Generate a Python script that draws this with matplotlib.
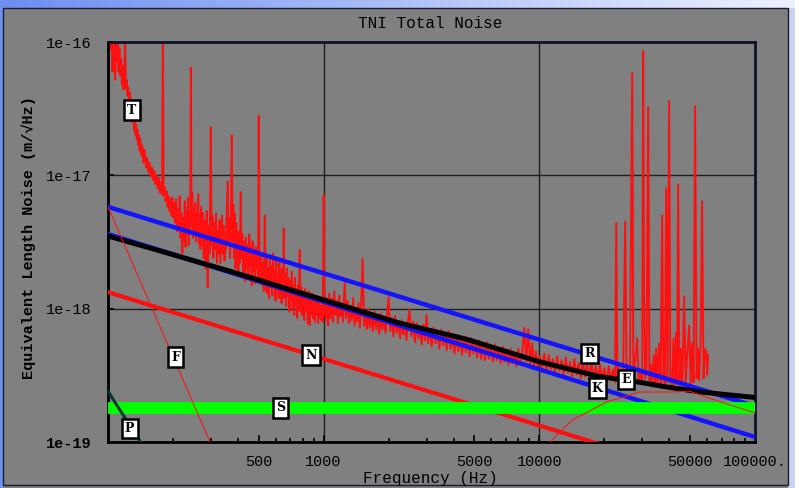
import numpy as np
import matplotlib.pyplot as plt
from matplotlib.ticker import FixedLocator, NullFormatter
from matplotlib.patches import Rectangle
from matplotlib.colors import LinearSegmentedColormap

# all amplitudes below are in units of 1e-18 m/rtHz
SCALE = 1e-18

# measured spectrum, (frequency Hz, amplitude)
measured = [
    (100, 120), (101, 95), (102, 130), (103, 88), (104, 110), (105, 60), (106, 125), (107, 70),
    (108, 52), (109, 98), (110, 72), (111, 105), (112, 60), (113, 90), (114, 56), (115, 75),
    (116, 48), (117, 66), (118, 44), (119, 58), (120, 110), (121, 45), (122, 52), (123, 40),
    (124, 46), (125, 35), (126, 42), (127, 32), (128, 38), (129, 28),
    (130, 25), (131, 30), (132, 22), (133, 27), (134, 20), (135, 24), (136, 18.5), (137, 22),
    (138, 17), (139, 20), (140, 15.5), (141, 19), (142, 14.5), (143, 17), (144, 13.8), (145, 16),
    (146, 12.5), (148, 15.5), (150, 11.5), (152, 13.5), (154, 10.5), (156, 12.5), (158, 9.8),
    (160, 11.5), (162, 9.2), (164, 10.8), (166, 8.6), (168, 10), (170, 8), (172, 9.5), (174, 7.4),
    (176, 8.8), (178, 7.2), (179.7, 110), (181, 7.0), (183, 8.2), (185, 6.4), (187, 7.6),
    (189, 5.8), (191, 7.0), (193, 5.4), (195, 6.6), (197, 5.0), (199, 6.8), (201, 4.8), (203, 6.2),
    (205, 4.4), (207, 6.6), (209, 3.8), (211, 5.6), (213, 4.2), (215, 7.0), (217, 3.4), (219, 5.2),
    (221, 2.6), (223, 4.8), (225, 3.2), (227, 6.4), (229, 2.9), (231, 5.4), (233, 3.6), (235, 6.8),
    (237, 3.0), (239, 5.0), (240.5, 3.8), (242.3, 64), (244, 4.2), (246, 7.4), (248, 3.4),
    (250, 5.6), (252, 3.8), (254, 6.2), (256, 3.2), (258, 5.2), (260, 3.6), (262, 7.2), (264, 3.1),
    (266, 5.0), (268, 2.8), (270, 5.8),
    (272, 3.0), (275, 5.2), (278, 2.4), (281, 4.6), (284, 2.0), (287, 5.4), (290, 1.45), (293, 4.2),
    (296, 2.6), (299.8, 23), (302, 3.0), (305, 5.0), (308, 2.4), (311, 4.4), (314, 2.8), (317, 5.2),
    (320, 2.2), (323, 3.8), (326, 2.6), (329, 4.6), (332, 2.2), (335, 3.4), (338, 5.0), (341, 2.6),
    (344, 4.2), (347, 2.3), (350, 3.6), (353, 2.8), (356, 6.0), (359.4, 9.0), (362, 3.0), (365, 4.8),
    (368, 2.4),
    (371, 4.4), (375.1, 20), (378, 3.2), (381, 6.0), (384, 2.4), (387, 5.2), (390, 2.0), (393, 4.4),
    (396, 2.6), (399, 3.8), (402, 1.8), (405, 3.6), (408, 2.2), (412.8, 7.5), (416, 2.4), (420, 3.6),
    (424, 1.9), (428, 3.2), (432, 1.6), (436, 3.4), (440, 2.0), (444, 3.0), (448, 1.7), (452, 3.6),
    (456, 2.1), (460, 2.9), (464, 1.5), (468, 3.2), (472, 1.9), (476, 2.7), (480, 1.55), (484, 2.9),
    (488, 2.0), (492, 2.6), (496, 1.6), (500.1, 28), (504, 2.3), (508, 1.7),
    (513, 2.6), (518, 1.5), (523, 2.2), (528, 1.35), (533.3, 5.0), (538, 1.4), (543, 2.4), (548, 1.3),
    (553, 2.0), (558, 1.2), (563, 2.5), (568, 1.45), (573, 2.1), (578, 1.25), (583, 2.6), (588, 1.5),
    (593, 1.9), (598, 1.15), (603, 2.3), (608, 1.4), (613, 1.8), (618, 1.2), (623, 2.2), (628, 1.3),
    (633, 1.9), (638, 1.1), (643, 2.0), (648, 1.35), (652.9, 4.0), (658, 1.2), (664, 1.8),
    (670, 1.05), (676, 2.0), (682, 1.25), (688, 1.7), (694, 0.95), (700, 1.6), (706, 1.15),
    (712, 1.9), (718, 1.0), (724, 1.5), (730, 0.9), (736, 1.7), (742, 1.05), (748, 1.4), (754, 0.85),
    (760, 1.5), (766, 1.0), (774.3, 2.75), (780, 0.95), (788, 1.45), (796, 0.9), (804, 1.3),
    (812, 0.82), (820, 1.4), (828, 0.95), (836, 1.25), (844, 0.78), (852, 1.35), (861, 0.75),
    (870, 1.2), (878, 0.9), (886, 1.3), (894, 0.85), (902, 1.15), (910, 0.8), (918, 1.25),
    (926, 0.9), (934, 1.1), (942, 0.78), (950, 1.2), (958, 0.85), (966, 1.05), (974, 0.82),
    (982, 1.15), (990, 0.8), (1000, 7.1), (1008, 0.9), (1016, 1.1), (1024, 0.85), (1032, 1.2),
    (1040, 0.8), (1050, 0.75),
    (1060, 1.3), (1075, 0.85), (1090, 1.2), (1105, 0.8), (1120, 1.35), (1135, 0.9), (1150, 1.15),
    (1165, 0.78), (1180, 1.25), (1195, 0.88), (1210, 1.1), (1230, 0.8), (1251, 1.56), (1270, 0.85),
    (1290, 1.15), (1310, 0.78), (1330, 1.05), (1350, 0.82), (1370, 1.2), (1390, 0.75), (1410, 1.0),
    (1430, 0.8), (1450, 1.1), (1470, 0.72), (1490, 1.0), (1516, 2.36), (1540, 0.75), (1560, 0.95),
    (1585, 0.7), (1610, 1.0), (1635, 0.72), (1660, 0.9), (1690, 0.68), (1720, 0.95), (1750, 0.7),
    (1780, 0.88), (1810, 0.65), (1840, 0.92), (1870, 0.7), (1900, 0.85), (1935, 0.66), (1970, 0.9),
    (2000, 1.22), (2035, 0.68), (2070, 0.85), (2105, 0.62), (2140, 0.88), (2180, 0.66), (2220, 0.8),
    (2260, 0.6), (2300, 0.82), (2340, 0.64), (2380, 0.78), (2420, 0.58), (2460, 0.8), (2501, 0.98),
    (2550, 0.62), (2600, 0.8), (2650, 0.56), (2700, 0.78), (2750, 0.6), (2800, 0.72), (2850, 0.54),
    (2900, 0.76), (2950, 0.58), (2999, 0.9), (3050, 0.55), (3110, 0.7), (3170, 0.52), (3230, 0.72),
    (3300, 0.55), (3370, 0.68), (3440, 0.5), (3510, 0.7), (3580, 0.53), (3650, 0.66), (3720, 0.49),
    (3800, 0.68), (3880, 0.5), (3960, 0.62), (4040, 0.46), (4120, 0.64), (4200, 0.48), (4290, 0.6),
    (4380, 0.45), (4470, 0.62), (4560, 0.47), (4650, 0.58), (4750, 0.44), (4850, 0.6), (4950, 0.46),
    (5050, 0.56), (5150, 0.43), (5260, 0.58), (5370, 0.42), (5480, 0.55), (5600, 0.41), (5720, 0.56),
    (5840, 0.42), (5960, 0.52), (6090, 0.4), (6220, 0.54), (6350, 0.41), (6480, 0.5), (6620, 0.39),
    (6760, 0.52), (6900, 0.4), (7050, 0.48), (7200, 0.38), (7350, 0.5), (7500, 0.39), (7660, 0.47),
    (7820, 0.37), (7990, 0.5), (8160, 0.38), (8330, 0.46), (8522, 0.72), (8700, 0.4), (8880, 0.7),
    (9070, 0.38), (9260, 0.55), (9450, 0.37), (9650, 0.48), (9850, 0.36),
    (10050, 0.44), (10300, 0.36), (10550, 0.46), (10800, 0.34), (11050, 0.45), (11300, 0.35),
    (11560, 0.42), (11830, 0.33), (12100, 0.44), (12380, 0.34), (12670, 0.41), (12960, 0.32),
    (13260, 0.43), (13570, 0.33), (13880, 0.4), (14200, 0.31), (14530, 0.42), (14870, 0.32),
    (15210, 0.39), (15560, 0.3), (15920, 0.41), (16290, 0.31), (16670, 0.38), (17060, 0.3),
    (17450, 0.4), (17860, 0.29), (18270, 0.37), (18690, 0.3), (19130, 0.38), (19570, 0.29),
    (20020, 0.36), (20480, 0.28), (20960, 0.37), (21440, 0.29), (21940, 0.35), (22450, 0.28),
    (22729, 4.4), (23000, 0.3), (23400, 0.36), (23970, 0.29), (24500, 0.38), (25013, 4.5),
    (25400, 0.3), (25800, 0.35), (26300, 0.28), (26954, 58.5), (27300, 0.3), (27800, 0.4),
    (28430, 0.6), (28900, 0.28), (29500, 0.34), (30000, 0.27), (30304, 85.6), (30600, 1.3),
    (30954, 0.3), (31400, 0.36), (31961, 32.5), (32400, 0.29), (32900, 0.38), (33352, 0.26),
    (33900, 0.45), (34400, 0.27), (34814, 0.5), (35300, 0.28), (35944, 0.55), (36500, 0.26),
    (37107, 5.0), (37600, 0.3), (38200, 0.27), (38726, 8.0), (39300, 0.28), (39985, 36),
    (40500, 0.3), (41278, 0.26), (41900, 0.6), (42500, 0.27), (43087, 0.66), (43500, 0.28),
    (44010, 8.6), (44600, 0.27), (45300, 0.5), (46000, 0.26), (46929, 1.24), (47700, 0.28),
    (48500, 0.45), (49495, 0.75), (50300, 0.27), (51088, 0.55), (51900, 0.28), (52770, 33),
    (53600, 0.3), (54400, 0.5), (55052, 0.29), (56000, 0.6), (56848, 6.4), (57700, 0.3),
    (58500, 0.5), (59320, 0.48), (60000, 0.32), (60603, 0.45),
]

# model curves (frequency Hz, amplitude)
upper_freq = [100, 100000]
upper_amp = [5.8, 0.186]
lower_freq = [100, 100000]
lower_amp = [3.63, 0.109]
total_freq = [100, 194, 367, 1186, 2249, 4592, 10000, 18963, 29040, 38726, 55052, 75000, 100000]
total_amp = [3.51, 2.58, 1.91, 1.07, 0.78, 0.59, 0.40, 0.31, 0.281, 0.259, 0.238, 0.226, 0.216]
n_freq = [100, 100000]
n_amp = [1.33, 0.042]
f_freq = [100, 320]
f_amp = [5.8, 0.076]
p_freq = [100, 150]
p_amp = [0.24, 0.086]
s_level = 0.181
k_freq = [10500, 14215, 20430, 29040, 41278, 49495, 59320, 96830, 100000]
k_amp = [0.09, 0.146, 0.199, 0.237, 0.237, 0.241, 0.217, 0.168, 0.165]

label_text = ['T', 'F', 'N', 'S', 'P', 'R', 'K', 'E']
label_freq = [129, 206, 871, 632, 126, 17045, 18560, 25280]
label_amp = [30.9, 0.434, 0.449, 0.180, 0.127, 0.464, 0.254, 0.295]

grid_freq = [1000, 10000]
grid_amp = [1e-17, 1e-18]
major_ticks = [500, 1000, 5000, 10000, 50000, 100000]
major_labels = ['500', '1000', '5000', '10000', '50000', '100000.']

W, H = 795, 488
MONO = ['Liberation Mono', 'DejaVu Sans Mono']
BG = '#808080'


def px(x, y, w=0, h=0):
    # pixel box (from top-left) to figure fraction
    return [x / W, 1 - (y + h) / H, w / W, h / H]


def draw_frame(fig):
    bar = fig.add_axes(px(0, 0, W, 8))
    cmap = LinearSegmentedColormap.from_list('bar', ['#6e8ef0', '#eef2ff'])
    bar.imshow(np.linspace(0, 1, 200).reshape(1, -1), aspect='auto', cmap=cmap)
    bar.axis('off')
    fig.patches.append(Rectangle((0, 0), 3 / W, 1, transform=fig.transFigure,
                                 facecolor='#7090ee', edgecolor='none'))
    fig.patches.append(Rectangle((788 / W, 0), 7 / W, 1 - 8 / H, transform=fig.transFigure,
                                 facecolor='#c9d3ee', edgecolor='none'))
    fig.patches.append(Rectangle((3 / W, 3 / H), 785 / W, 1 - 11 / H, transform=fig.transFigure,
                                 facecolor='none', edgecolor='#1a1a30', linewidth=1))


def plot_chart():
    fig = plt.figure(figsize=(W / 100, H / 100), dpi=100, facecolor=BG)
    draw_frame(fig)
    ax = fig.add_axes(px(108, 42, 647, 400))
    ax.set_facecolor(BG)
    ax.set_xscale('log')
    ax.set_yscale('log')

    for f in grid_freq:
        ax.axvline(f, color='#1e1e1e', lw=1, zorder=1)
    for a in grid_amp:
        ax.axhline(a, color='#1e1e1e', lw=1, zorder=1)

    mf = np.array([m[0] for m in measured])
    ma = np.array([m[1] for m in measured]) * SCALE
    ax.plot(mf, ma, color='#ff1010', lw=1.4, zorder=2)

    ax.plot(upper_freq, np.array(upper_amp) * SCALE, color='#1414ff', lw=3.2, zorder=3)
    ax.plot(lower_freq, np.array(lower_amp) * SCALE, color='#1414ff', lw=3.2, zorder=3)
    ax.plot(n_freq, np.array(n_amp) * SCALE, color='#ff1010', lw=3, zorder=3)
    ax.plot(total_freq, np.array(total_amp) * SCALE, color='black', lw=3.6, zorder=4)
    ax.axhline(s_level * SCALE, color='#00ff00', lw=8.5, zorder=5)
    ax.plot(f_freq, np.array(f_amp) * SCALE, color='#ff1010', lw=0.7, zorder=6)
    ax.plot(k_freq, np.array(k_amp) * SCALE, color='#ff1010', lw=0.7, zorder=6)
    ax.plot(p_freq, np.array(p_amp) * SCALE, color='#003838', lw=2.2, zorder=6)

    for t, f, a in zip(label_text, label_freq, label_amp):
        ax.text(f, a * SCALE, t, ha='center', va='center', fontsize=9, fontweight='bold',
                family='DejaVu Serif', zorder=10,
                bbox=dict(boxstyle='square,pad=0.25', fc='white', ec='black', lw=1.8))

    ax.set_xlim(100, 100000)
    ax.set_ylim(1e-19, 1e-16)

    ax.xaxis.set_major_locator(FixedLocator(major_ticks))
    ax.set_xticklabels(major_labels)
    minors = [m * d for d in (100, 1000, 10000) for m in range(2, 10)]
    ax.xaxis.set_minor_locator(FixedLocator([m for m in minors if m not in major_ticks]))
    ax.xaxis.set_minor_formatter(NullFormatter())
    ax.yaxis.set_major_locator(FixedLocator([1e-19, 1e-18, 1e-17, 1e-16]))
    ax.set_yticklabels(['1e-19', '1e-18', '1e-17', '1e-16'])
    ax.yaxis.set_minor_locator(FixedLocator([]))
    ax.get_yticklabels()[0].set_fontweight('bold')

    ax.tick_params(axis='both', which='both', direction='in', colors='black',
                   labelsize=11, top=False, right=False)
    ax.tick_params(axis='x', which='major', length=5, width=1.2, pad=9)
    ax.tick_params(axis='x', which='minor', length=3, width=1.2)
    ax.tick_params(axis='y', which='major', length=4, width=1.2, pad=12)
    for lab in ax.get_xticklabels() + ax.get_yticklabels():
        lab.set_family(MONO)

    for side in ['left', 'bottom']:
        ax.spines[side].set_linewidth(2)
        ax.spines[side].set_color('black')
    for side in ['top', 'right']:
        ax.spines[side].set_linewidth(2)
        ax.spines[side].set_color('#10102a')

    fig.text(430 / W, 1 - 24 / H, 'TNI Total Noise', ha='center', va='center',
             fontsize=11.5, family=MONO)
    fig.text(430 / W, 1 - 479 / H, 'Frequency (Hz)', ha='center', va='center',
             fontsize=11.5, family=MONO)
    fig.text(29 / W, 1 - 238 / H, 'Equivalent Length Noise (m/\u221aHz)', ha='center',
             va='center', rotation=90, fontsize=11, fontweight='bold', family=MONO)

    fig.savefig('out.png', dpi=100, facecolor=BG)


if __name__ == '__main__':
    plot_chart()
